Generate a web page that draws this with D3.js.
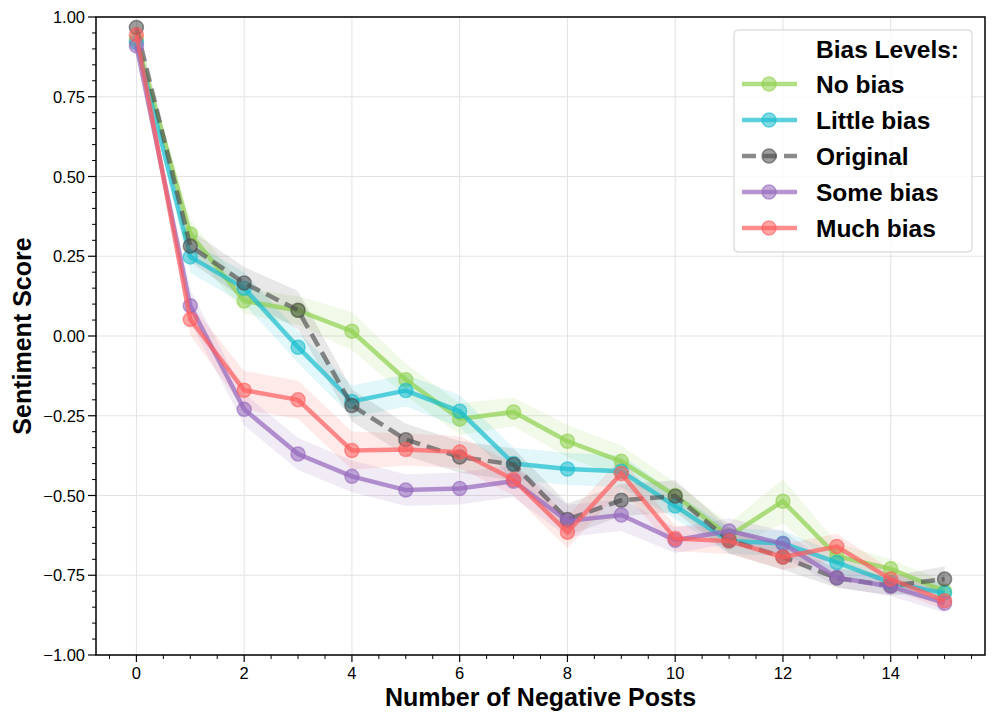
<!DOCTYPE html>
<html>
<head>
<meta charset="utf-8">
<script src="https://cdn.jsdelivr.net/npm/d3@7"></script>
<style>
  body { margin: 0; background: #fff; }
  svg { display: block; }
</style>
</head>
<body>
<svg id="chart" width="996" height="723"></svg>
<script>
// ---- data ----
const xValues = [0,1,2,3,4,5,6,7,8,9,10,11,12,13,14,15];
const seriesNames = ["No bias", "Little bias", "Original", "Some bias", "Much bias"];
const noBias     = [0.93, 0.32, 0.11, 0.08, 0.015, -0.137, -0.26, -0.238, -0.33, -0.393, -0.50, -0.627, -0.518, -0.69, -0.73, -0.80];
const littleBias = [0.92, 0.248, 0.15, -0.035, -0.205, -0.171, -0.236, -0.40, -0.417, -0.424, -0.533, -0.643, -0.65, -0.71, -0.773, -0.806];
const original   = [0.967, 0.282, 0.166, 0.081, -0.218, -0.325, -0.379, -0.403, -0.575, -0.515, -0.502, -0.64, -0.693, -0.759, -0.783, -0.762];
const someBias   = [0.91, 0.095, -0.23, -0.37, -0.44, -0.483, -0.478, -0.455, -0.58, -0.561, -0.64, -0.611, -0.651, -0.757, -0.785, -0.8375];
const muchBias   = [0.944, 0.052, -0.17, -0.20, -0.359, -0.356, -0.364, -0.45, -0.615, -0.431, -0.635, -0.643, -0.693, -0.66, -0.762, -0.83];
// confidence half-widths
const noBiasErr     = [0.01, 0.045, 0.04, 0.045, 0.06, 0.05, 0.05, 0.045, 0.05, 0.05, 0.04, 0.04, 0.07, 0.04, 0.03, 0.03];
const littleBiasErr = [0.01, 0.05, 0.05, 0.05, 0.05, 0.05, 0.05, 0.05, 0.05, 0.05, 0.04, 0.04, 0.04, 0.03, 0.03, 0.03];
const originalErr   = [0.01, 0.05, 0.05, 0.06, 0.05, 0.05, 0.05, 0.05, 0.05, 0.05, 0.05, 0.04, 0.04, 0.03, 0.03, 0.04];
const someBiasErr   = [0.01, 0.05, 0.05, 0.05, 0.05, 0.05, 0.05, 0.05, 0.05, 0.05, 0.04, 0.04, 0.04, 0.03, 0.03, 0.03];
const muchBiasErr   = [0.01, 0.05, 0.06, 0.06, 0.06, 0.05, 0.05, 0.05, 0.05, 0.05, 0.04, 0.04, 0.04, 0.04, 0.03, 0.03];
const xTicks = [0,2,4,6,8,10,12,14];
const yTicks = [-1,-0.75,-0.5,-0.25,0,0.25,0.5,0.75,1];

const series = [
  {name: seriesNames[0], values: noBias, err: noBiasErr, color: "#8fd14f", dash: null},
  {name: seriesNames[1], values: littleBias, err: littleBiasErr, color: "#17becf", dash: null},
  {name: seriesNames[2], values: original, err: originalErr, color: "#4d4d4d", dash: "14,7"},
  {name: seriesNames[3], values: someBias, err: someBiasErr, color: "#9467bd", dash: null},
  {name: seriesNames[4], values: muchBias, err: muchBiasErr, color: "#ff5c5c", dash: null}
];

const svg = d3.select("#chart");
const L = 96, R = 985, T = 17, B = 655;
const x = d3.scaleLinear().domain([-0.75, 15.75]).range([L, R]);
const y = d3.scaleLinear().domain([-1, 1]).range([B, T]);
const font = "'Liberation Sans', Arial, Helvetica, sans-serif";

// grid
const grid = svg.append("g");
grid.selectAll("line.gx").data(xTicks).join("line")
  .attr("x1", d => x(d)).attr("x2", d => x(d)).attr("y1", T).attr("y2", B)
  .attr("stroke", "#e3e3e3").attr("stroke-width", 1);
grid.selectAll("line.gy").data(yTicks).join("line")
  .attr("x1", L).attr("x2", R).attr("y1", d => y(d)).attr("y2", d => y(d))
  .attr("stroke", "#e3e3e3").attr("stroke-width", 1);

// bands
const area = d3.area().x((d,i) => x(xValues[i])).y0(d => y(d[0])).y1(d => y(d[1]));
series.forEach(s => {
  const pts = s.values.map((v,i) => [v - s.err[i], v + s.err[i]]);
  svg.append("path").datum(pts).attr("d", area)
    .attr("fill", s.color).attr("fill-opacity", 0.13);
});

// lines and markers
const line = d3.line().x((d,i) => x(xValues[i])).y(d => y(d));
series.forEach(s => {
  const g = svg.append("g");
  g.append("path").datum(s.values).attr("d", line)
    .attr("fill", "none").attr("stroke", s.color)
    .attr("stroke-opacity", s.name === "Original" ? 0.65 : 0.7)
    .attr("stroke-width", 4.5)
    .attr("stroke-dasharray", s.dash);
  g.selectAll("circle").data(s.values).join("circle")
    .attr("cx", (d,i) => x(xValues[i])).attr("cy", d => y(d)).attr("r", 7)
    .attr("fill", s.color).attr("fill-opacity", 0.55)
    .attr("stroke", s.color).attr("stroke-opacity", 0.6).attr("stroke-width", 1.5);
});

// axes frame
svg.append("rect").attr("x", L).attr("y", T).attr("width", R - L).attr("height", B - T)
  .attr("fill", "none").attr("stroke", "#000").attr("stroke-width", 1.5);

// x ticks
const xMinor = d3.range(-0.5, 15.75, 0.5).filter(v => !xTicks.includes(v));
const ax = svg.append("g");
ax.selectAll("line.xmaj").data(xTicks).join("line")
  .attr("x1", d => x(d)).attr("x2", d => x(d)).attr("y1", B).attr("y2", B + 7)
  .attr("stroke", "#000").attr("stroke-width", 1.2);
ax.selectAll("line.xmin").data(xMinor).join("line")
  .attr("x1", d => x(d)).attr("x2", d => x(d)).attr("y1", B).attr("y2", B + 4)
  .attr("stroke", "#000").attr("stroke-width", 1);
ax.selectAll("text.xl").data(xTicks).join("text")
  .attr("x", d => x(d)).attr("y", B + 24).attr("text-anchor", "middle")
  .attr("font-family", font).attr("font-size", 16.5).text(d => d);

// y ticks
const yMinor = d3.range(-0.95, 1.0, 0.05).filter(v => Math.abs(v*4 - Math.round(v*4)) > 0.01);
const ay = svg.append("g");
ay.selectAll("line.ymaj").data(yTicks).join("line")
  .attr("x1", L - 8).attr("x2", L).attr("y1", d => y(d)).attr("y2", d => y(d))
  .attr("stroke", "#000").attr("stroke-width", 1.2);
ay.selectAll("line.ymin").data(yMinor).join("line")
  .attr("x1", L - 4).attr("x2", L).attr("y1", d => y(d)).attr("y2", d => y(d))
  .attr("stroke", "#000").attr("stroke-width", 1);
const fmt = d3.format(".2f");
ay.selectAll("text.yl").data(yTicks).join("text")
  .attr("x", L - 11).attr("y", d => y(d) + 6).attr("text-anchor", "end")
  .attr("font-family", font).attr("font-size", 16.5).text(d => fmt(d));

// axis titles
svg.append("text").attr("x", (L + R) / 2).attr("y", 706).attr("text-anchor", "middle")
  .attr("font-family", font).attr("font-size", 25).attr("font-weight", "bold")
  .text("Number of Negative Posts");
svg.append("text").attr("transform", `translate(31,${(T + B) / 2}) rotate(-90)`)
  .attr("text-anchor", "middle")
  .attr("font-family", font).attr("font-size", 25).attr("font-weight", "bold")
  .text("Sentiment Score");

// legend
const lg = svg.append("g");
lg.append("rect").attr("x", 734).attr("y", 30).attr("width", 238).attr("height", 222)
  .attr("rx", 4).attr("fill", "#fff").attr("fill-opacity", 0.85)
  .attr("stroke", "#d0d0d0").attr("stroke-width", 1);
lg.append("text").attr("x", 816).attr("y", 57.5)
  .attr("font-family", font).attr("font-size", 24.5).attr("font-weight", "bold")
  .text("Bias Levels:");
series.forEach((s, i) => {
  const cy = 84 + i * 36;
  lg.append("line").attr("x1", 742).attr("x2", 797).attr("y1", cy).attr("y2", cy)
    .attr("stroke", s.color).attr("stroke-opacity", s.name === "Original" ? 0.65 : 0.7)
    .attr("stroke-width", 4.5).attr("stroke-dasharray", s.dash);
  lg.append("circle").attr("cx", 769).attr("cy", cy).attr("r", 7)
    .attr("fill", s.color).attr("fill-opacity", 0.55)
    .attr("stroke", s.color).attr("stroke-opacity", 0.6).attr("stroke-width", 1.5);
  lg.append("text").attr("x", 816).attr("y", cy + 9)
    .attr("font-family", font).attr("font-size", 24.5).attr("font-weight", "bold")
    .text(s.name);
});
</script>
</body>
</html>
